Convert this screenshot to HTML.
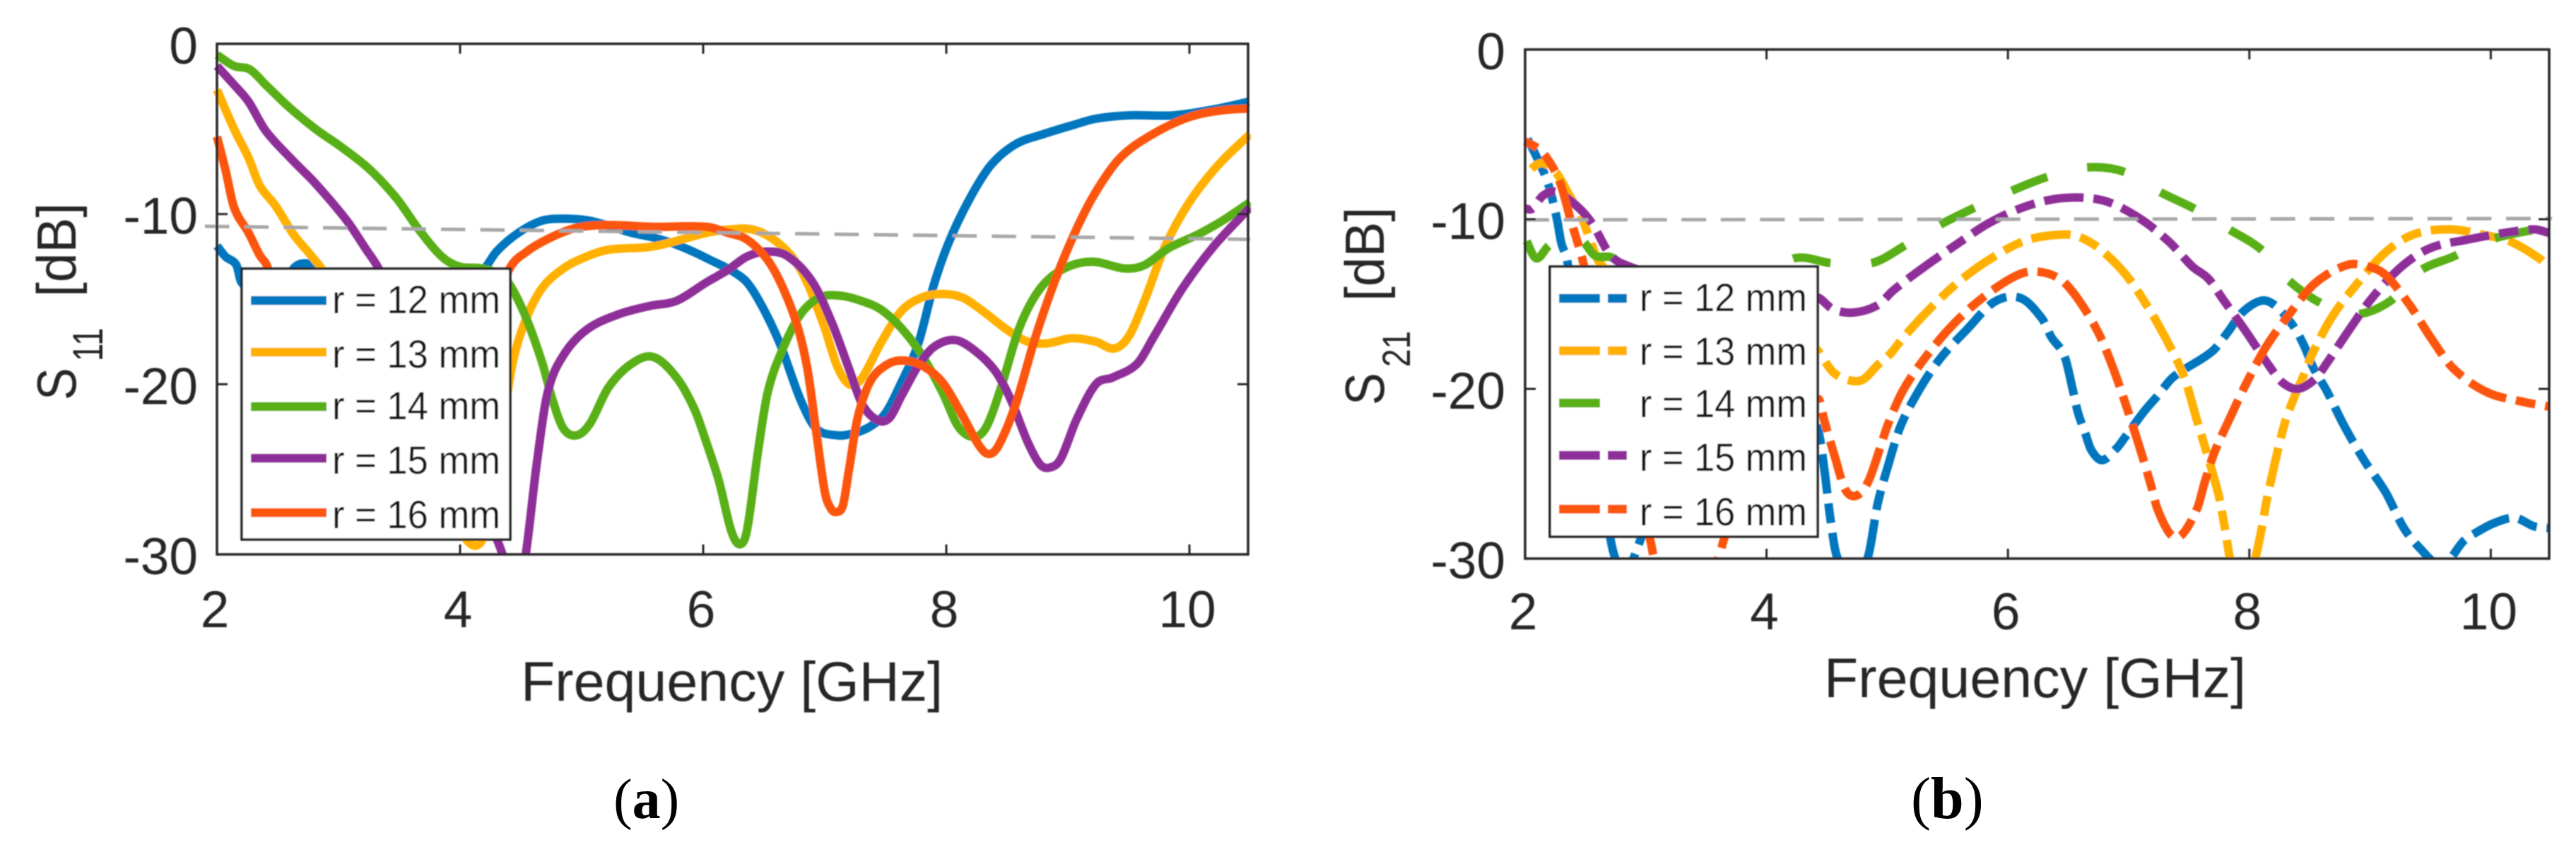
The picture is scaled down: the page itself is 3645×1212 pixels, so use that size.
<!DOCTYPE html>
<html lang="en">
<head>
<meta charset="utf-8">
<title>S11 and S21 versus frequency</title>
<style>
html,body{margin:0;padding:0;background:#fff;width:3645px;height:1212px;overflow:hidden}
svg{display:block;font-family:"Liberation Sans",Arial,sans-serif}
</style>
</head>
<body>
<svg id="figure" xmlns="http://www.w3.org/2000/svg" width="3645" height="1212" viewBox="0 0 3645 1212">
<defs>
<filter id="soft" x="-5%" y="-5%" width="110%" height="110%"><feGaussianBlur stdDeviation="0.7"/></filter>
<clipPath id="clipA"><rect x="298" y="62" width="1472" height="722"/></clipPath>
<clipPath id="clipB"><rect x="2149" y="70" width="1460" height="720"/></clipPath>
</defs>
<g id="panelA" filter="url(#soft)"></g>
<g id="panelB" filter="url(#soft)"></g>
<text x="868" y="1157" font-family="'Liberation Serif',serif" font-size="80" fill="#000">(<tspan font-weight="bold">a</tspan>)</text>
<text x="2704" y="1157" font-family="'Liberation Serif',serif" font-size="84" fill="#000">(<tspan font-weight="bold">b</tspan>)</text>
</svg>
<script>
const xTicks = [2, 4, 6, 8, 10];
const yTicks = [0, -10, -20, -30];
const legendLabels = ['r = 12 mm', 'r = 13 mm', 'r = 14 mm', 'r = 15 mm', 'r = 16 mm'];
const refLineA = [-10.72, -11.49];
const refLineB = [-10.04, -9.96];

const s11FreqR12 = [2,2.07,2.16,2.2,2.44,2.63,2.74,2.87,3.1,3.5,3.9,4.2,4.3,4.48,4.67,4.85,5.07,5.41,5.6,5.78,6.03,6.33,6.46,6.63,6.8,6.93,7.1,7.23,7.37,7.5,7.63,7.77,7.9,8.03,8.2,8.37,8.57,8.8,9.03,9.23,9.5,9.87,10.2,10.49];
const s11DbR12 = [-11.87,-12.5,-13,-14,-15.4,-13.2,-12.9,-13.3,-15,-16,-15,-13.2,-12.2,-11.1,-10.4,-10.27,-10.4,-11.1,-11.4,-11.8,-12.6,-13.8,-15.1,-17.6,-20.9,-22.6,-23,-22.9,-22.5,-21.7,-19.9,-17.6,-14.1,-11.5,-9,-7.1,-5.9,-5.3,-4.8,-4.4,-4.2,-4.2,-3.85,-3.4];
const s11FreqR13 = [2,2.14,2.26,2.35,2.48,2.63,2.77,2.87,3.2,3.6,3.95,4.17,4.3,4.42,4.53,4.67,4.85,5.04,5.22,5.59,6.03,6.23,6.4,6.56,6.73,6.86,7,7.1,7.2,7.3,7.46,7.63,7.8,7.97,8.13,8.3,8.5,8.67,8.83,9.03,9.23,9.38,9.5,9.63,9.8,10,10.24,10.5];
const s11DbR13 = [-2.7,-5,-6.7,-8.3,-9.5,-11.2,-12.4,-13.3,-17,-23,-28,-29.3,-25,-19.2,-16.4,-14.4,-13.2,-12.5,-12.1,-11.9,-11.1,-10.9,-10.9,-11.4,-12.5,-14.1,-16.7,-18.9,-20,-19.7,-17.6,-15.7,-14.9,-14.7,-14.9,-15.7,-16.8,-17.5,-17.6,-17.3,-17.5,-17.9,-17.2,-15.1,-11.9,-9.3,-7.1,-5.3];
const s11FreqR14 = [2,2.14,2.27,2.4,2.59,2.81,3.03,3.26,3.48,3.66,3.85,4,4.18,4.37,4.52,4.67,4.76,4.85,4.96,5.07,5.22,5.41,5.59,5.78,5.93,6.03,6.13,6.23,6.3,6.36,6.45,6.53,6.65,6.8,6.96,7.13,7.3,7.46,7.63,7.8,7.97,8.1,8.23,8.33,8.45,8.6,8.77,8.97,9.2,9.47,9.63,9.83,10.07,10.27,10.5];
const s11DbR14 = [-0.65,-1.3,-1.5,-2.4,-3.7,-5,-6.1,-7.4,-9.1,-10.9,-12.5,-13.1,-13.2,-13.8,-15.7,-18.6,-20.9,-22.6,-23,-22.3,-20.2,-18.8,-18.4,-19.6,-21.5,-23.5,-25.7,-28.6,-29.4,-28.6,-24,-20.5,-18,-15.9,-14.9,-14.8,-15.1,-15.6,-16.7,-18.3,-20.5,-22.5,-23.1,-22.5,-20.2,-16.7,-14.4,-13.2,-12.8,-13.2,-13,-12,-11.2,-10.4,-9.3];
const s11FreqR15 = [2,2.14,2.26,2.4,2.63,2.81,3.07,3.22,3.33,3.6,4,4.35,4.45,4.54,4.63,4.72,4.85,5.04,5.3,5.56,5.78,6.03,6.2,6.36,6.53,6.7,6.9,7.06,7.2,7.31,7.43,7.53,7.63,7.77,7.9,8.07,8.23,8.4,8.53,8.67,8.77,8.85,8.94,9.07,9.23,9.37,9.57,9.7,9.94,10.2,10.5];
const s11DbR15 = [-1.3,-2.4,-3.4,-5.1,-6.9,-8.2,-10.4,-12,-13.2,-17,-24,-30,-33,-30,-24.7,-20.5,-18.3,-16.8,-15.9,-15.4,-15.1,-14,-13.3,-12.5,-12.2,-12.5,-14,-16.4,-19.1,-21.2,-22.1,-22,-20.7,-18.9,-17.8,-17.4,-18,-19.2,-20.9,-23.4,-24.7,-24.9,-24.4,-22.1,-20,-19.6,-18.8,-17.3,-14.4,-11.9,-9.6];
const s11FreqR16 = [2,2.07,2.14,2.26,2.35,2.42,2.7,3.1,3.6,4,4.4,4.55,4.74,4.96,5.22,5.59,6.03,6.2,6.36,6.53,6.66,6.78,6.86,6.93,7,7.05,7.1,7.15,7.2,7.27,7.37,7.5,7.63,7.8,7.97,8.13,8.27,8.35,8.43,8.57,8.73,8.9,9.07,9.23,9.43,9.7,10,10.27,10.49];
const s11DbR16 = [-5.45,-7.4,-9.6,-11.1,-12.4,-13.2,-20,-27,-26,-20,-13.3,-12.2,-11.4,-10.8,-10.65,-10.75,-10.75,-11.1,-11.5,-12.7,-14.4,-16.7,-19.2,-22.8,-26.3,-27.3,-27.5,-27.1,-25,-22,-19.9,-18.9,-18.6,-18.9,-19.9,-21.8,-23.6,-24.1,-23.6,-21.2,-17.3,-13.8,-10.9,-8.7,-6.7,-5.3,-4.3,-3.9,-3.8];

const s21FreqR12 = [2,2.09,2.19,2.26,2.3,2.35,2.6,2.72,2.84,2.96,3.3,3.8,4.2,4.43,4.48,4.53,4.58,4.7,4.84,4.92,5.01,5.11,5.27,5.44,5.66,5.89,6.106,6.28,6.36,6.47,6.545,6.58,6.64,6.69,6.78,6.9,6.965,7.12,7.24,7.37,7.69,7.82,7.94,8.1,8.21,8.36,8.45,8.53,8.64,8.78,8.95,9.13,9.28,9.44,9.55,9.65,9.77,9.87,10.03,10.2,10.36,10.48];
const s21DbR12 = [-5,-6.25,-7.9,-9.86,-11.4,-12.5,-23,-29.3,-30.6,-28.8,-22,-17,-18,-22.5,-24.8,-27.7,-29.8,-31.2,-29.9,-26.8,-24.45,-22.2,-20,-18.2,-16.5,-14.86,-14.65,-15.83,-16.95,-18.1,-20.3,-21.4,-22.6,-23.6,-24.2,-23.5,-22.9,-21.4,-20.4,-19.3,-17.8,-16.67,-15.5,-14.8,-15.07,-16.25,-17.4,-18.75,-20.1,-22.1,-24.2,-26.1,-28.2,-29.6,-30.3,-30.1,-29,-28.5,-27.9,-27.6,-28.1,-28.2];
const s21FreqR13 = [2,2.13,2.25,2.36,2.48,2.56,2.62,3,3.6,4.1,4.42,4.55,4.69,4.8,4.92,5.03,5.13,5.35,5.59,5.85,6.15,6.46,6.61,6.77,6.98,7.17,7.32,7.46,7.56,7.74,7.8,7.84,7.92,8,8.05,8.1,8.14,8.21,8.29,8.36,8.45,8.53,8.69,8.87,9.12,9.36,9.67,9.97,10.16,10.4,10.48];
const s21DbR13 = [-7.36,-6.7,-7.2,-8.5,-10.1,-11.67,-12.6,-15,-15,-15.5,-17.7,-19,-19.5,-19.45,-18.6,-17.9,-17,-15.3,-13.7,-12.36,-11.25,-10.9,-11.1,-11.8,-13.3,-15.3,-17.2,-19.3,-21.7,-26.1,-28.3,-30,-31.5,-31.5,-30,-28.3,-26.7,-24.4,-22.1,-20.7,-19.2,-17.8,-15.7,-14,-12,-10.9,-10.6,-10.97,-11.3,-12.3,-12.8];
const s21FreqR14 = [2,2.09,2.19,2.3,2.47,2.58,2.73,3,3.6,4,4.23,4.55,4.88,5.16,5.45,5.73,6.03,6.33,6.65,6.96,7.26,7.55,7.82,8.1,8.31,8.58,8.87,9.16,9.4,9.69,9.98,10.3,10.48];
const s21DbR14 = [-11.1,-12.3,-11.6,-11,-11.25,-12.15,-12.3,-14,-14.5,-13.5,-12.3,-12.6,-12.57,-11.5,-10.28,-9.3,-8.33,-7.5,-6.95,-7.2,-8.4,-9.4,-10.55,-11.8,-13.5,-14.9,-15.6,-14.86,-13.1,-12.2,-11.25,-10.7,-10.6];
const s21FreqR15 = [2,2.06,2.15,2.26,2.44,2.56,2.69,2.79,3.2,3.8,4.42,4.55,4.72,4.92,5.05,5.3,5.58,5.85,6.15,6.46,6.79,7.08,7.33,7.53,7.66,7.78,7.96,8.16,8.27,8.4,8.54,8.64,8.81,9.01,9.26,9.5,9.81,10.12,10.36,10.48];
const s21DbR15 = [-9.38,-9.38,-8.6,-8.4,-9.3,-10.3,-11.95,-12.57,-13.5,-14,-14.6,-15.3,-15.5,-15.07,-14.2,-12.85,-11.46,-10.2,-9.24,-8.75,-8.9,-9.9,-11.3,-12.8,-13.5,-14.7,-16.5,-18.6,-19.6,-20,-19.45,-18.5,-16.7,-14.7,-12.8,-11.7,-11.2,-10.8,-10.6,-10.8];
const s21FreqR16 = [2,2.13,2.23,2.3,2.38,2.43,2.48,2.8,3.04,3.07,3.35,3.6,3.65,4,4.43,4.48,4.57,4.65,4.74,4.84,4.94,5,5.13,5.31,5.52,5.76,6.03,6.2,6.42,6.57,6.75,6.87,6.98,7.08,7.18,7.24,7.35,7.44,7.57,7.63,7.71,7.84,7.98,8.14,8.32,8.54,8.81,8.99,9.13,9.33,9.5,9.69,9.97,10.26,10.48];
const s21DbR16 = [-5.4,-5.97,-6.94,-8.05,-10.1,-11.25,-12.5,-22,-29,-30,-34,-30,-28.8,-22,-20.6,-21.9,-24.1,-25.9,-26.3,-25.5,-23.5,-22.2,-20.1,-18.2,-16.4,-14.8,-13.47,-13.08,-13.47,-14.6,-16.7,-18.75,-21,-23.2,-25.55,-27.1,-28.6,-28.6,-27,-25.5,-23.75,-21.7,-19.6,-17.5,-15.7,-13.8,-12.7,-12.8,-13.3,-15.07,-16.95,-18.8,-20.2,-20.75,-21.04];

const seriesColors = ['#0076BE', '#FFB000', '#58AF14', '#8E2F98', '#FC5408'];
const SVGNS = 'http://www.w3.org/2000/svg';
const INK = '#262626';

function make(tag, parent, attrs) {
  const el = document.createElementNS(SVGNS, tag);
  for (const k in attrs) el.setAttribute(k, attrs[k]);
  parent.appendChild(el);
  return el;
}
function label(parent, name, str, x, y, size, anchor, sx, rotate) {
  const el = make('text', parent, {
    transform: 'translate(' + x + ' ' + y + ')' + (rotate ? ' rotate(-90)' : '') + ' scale(' + sx + ' 1)',
    'font-size': size, 'text-anchor': anchor, fill: INK
  });
  
  
  el.textContent = str;
  return el;
}
function smoothPath(xs, ys) {
  const n = xs.length, m = [];
  for (let i = 0; i < n; i++) {
    const a = Math.max(0, i - 1), b = Math.min(n - 1, i + 1);
    m.push((ys[b] - ys[a]) / (xs[b] - xs[a]));
  }
  let d = 'M' + xs[0].toFixed(1) + ' ' + ys[0].toFixed(1);
  for (let i = 0; i < n - 1; i++) {
    const h = (xs[i + 1] - xs[i]) / 3;
    d += 'C' + (xs[i] + h).toFixed(1) + ' ' + (ys[i] + m[i] * h).toFixed(1) + ' ' +
         (xs[i + 1] - h).toFixed(1) + ' ' + (ys[i + 1] - m[i + 1] * h).toFixed(1) + ' ' +
         xs[i + 1].toFixed(1) + ' ' + ys[i + 1].toFixed(1);
  }
  return d;
}
function lengthAtX(path, x) {
  let lo = 0, hi = path.getTotalLength();
  for (let k = 0; k < 40; k++) {
    const mid = (lo + hi) / 2;
    if (path.getPointAtLength(mid).x < x) lo = mid; else hi = mid;
  }
  return lo;
}

function drawPanel(c) {
  const g = document.getElementById(c.id);
  const X = f => c.x0 + (f - 2) * c.pxPerGHz;
  const Y = v => c.y0 - v * c.pxPerDb;

  const plot = make('g', g, { 'clip-path': 'url(#' + c.clip + ')' });
  c.series.forEach((s, i) => {
    const p = make('path', plot, {
      d: smoothPath(s.f.map(X), s.v.map(Y)), fill: 'none',
      stroke: seriesColors[i], 'stroke-width': 12, 'stroke-linejoin': 'round'
    });
    if (c.dashes) {
      p.setAttribute('stroke-dasharray', c.dashes[i].join(' '));
      const period = c.dashes[i].reduce((a, b) => a + b, 0);
      const L = lengthAtX(p, X(c.dashAnchors[i]));
      p.setAttribute('stroke-dashoffset', (period - (L % period)).toFixed(1));
    }
    
    
  });

  const ref = make('line', g, {
    x1: c.refX[0], x2: c.refX[1], y1: Y(c.ref[0]), y2: Y(c.ref[1]),
    stroke: '#A8A8A8', 'stroke-width': 5, 'stroke-dasharray': c.refDash, 'stroke-dashoffset': c.refOffset
  });
  
  

  const frame = make('rect', g, {
    x: c.x0, y: c.y0, width: c.x1 - c.x0, height: c.y1 - c.y0,
    fill: 'none', stroke: INK, 'stroke-width': 3.5
  });
  
  

  xTicks.forEach((t) => {
    const tb = make('line', g, { x1: X(t), x2: X(t), y1: c.y1, y2: c.y1 - 14, stroke: INK, 'stroke-width': 3 });
    
    
    const tt = make('line', g, { x1: X(t), x2: X(t), y1: c.y0, y2: c.y0 + 14, stroke: INK, 'stroke-width': 3 });
    
    
    label(g, 'x-tick-label', String(t), X(t) - 3, c.xLabelY, 73, 'middle', 1, false);
  });
  yTicks.forEach((t) => {
    const tl = make('line', g, { x1: c.x0, x2: c.x0 + 15, y1: Y(t), y2: Y(t), stroke: INK, 'stroke-width': 3 });
    
    
    const tr = make('line', g, { x1: c.x1, x2: c.x1 - 15, y1: Y(t), y2: Y(t), stroke: INK, 'stroke-width': 3 });
    
    
    label(g, 'y-tick-label', String(t), c.yLabelX, Y(t) + 28, 73, 'end', 1, false);
  });

  label(g, 'x-axis-title', 'Frequency [GHz]', c.titleX, c.titleY, 79, 'start', 1, false);
  label(g, 'y-axis-symbol', 'S', c.symX, c.symY, 78, 'start', 0.88, true);
  label(g, 'y-axis-subscript', c.sub, c.subX, c.subY, c.subSize, 'start', c.subSx, true);
  label(g, 'y-axis-unit', '[dB]', c.symX, c.unitY, 78, 'start', 0.96, true);

  const lg = make('g', g, {});
  
  
  make('rect', lg, { x: c.lg.x, y: c.lg.y, width: c.lg.w, height: c.lg.h, fill: '#fff', stroke: '#222', 'stroke-width': 3.5 });
  legendLabels.forEach((t, i) => {
    const ln = make('line', lg, {
      x1: c.lg.lx0, x2: c.lg.lx1, y1: c.lg.ly[i], y2: c.lg.ly[i],
      stroke: seriesColors[i], 'stroke-width': 12.5
    });
    if (c.legendDashes) ln.setAttribute('stroke-dasharray', c.legendDashes[i]);
    
    
    const tx = make('text', lg, {
      x: c.lg.tx, y: c.lg.ty[i], 'font-size': 56, fill: '#161616',
      textLength: c.lg.tw, lengthAdjust: 'spacingAndGlyphs'
    });
    
    
    tx.textContent = t;
  });
}

drawPanel({
  id: 'panelA', prefix: 's11', clip: 'clipA', x0: 307, x1: 1766, y0: 62, y1: 784,
  pxPerGHz: 172, pxPerDb: 24.07, ref: refLineA, refX: [290, 1769], refDash: '34.5 21.17', refOffset: 0,
  series: [
    { f: s11FreqR12, v: s11DbR12 }, { f: s11FreqR13, v: s11DbR13 }, { f: s11FreqR14, v: s11DbR14 },
    { f: s11FreqR15, v: s11DbR15 }, { f: s11FreqR16, v: s11DbR16 }
  ],
  xLabelY: 887, yLabelX: 280,
  titleX: 737, titleY: 991,
  symX: 107, symY: 566, sub: '11', subX: 145, subY: 511, subSize: 60, subSx: 0.76, unitY: 420,
  lg: { x: 342, y: 380, w: 380, h: 383, lx0: 355, lx1: 462, tx: 470, tw: 238,
        ly: [425, 498, 575, 648, 725], ty: [443, 520, 593, 670, 747] }
});

drawPanel({
  id: 'panelB', prefix: 's21', clip: 'clipB', x0: 2158, x1: 3607, y0: 70, y1: 790,
  pxPerGHz: 170.8, pxPerDb: 24, ref: refLineB, refX: [2153, 3611], refDash: '35 20.56', refOffset: -4,
  series: [
    { f: s21FreqR12, v: s21DbR12 }, { f: s21FreqR13, v: s21DbR13 }, { f: s21FreqR14, v: s21DbR14 },
    { f: s21FreqR15, v: s21DbR15 }, { f: s21FreqR16, v: s21DbR16 }
  ],
  dashes: [[56, 14, 28, 14], [56, 14, 28, 14], [54, 58], [56, 14, 28, 14], [56, 14, 28, 14]],
  dashAnchors: [6.47, 9.5, 6.03, 6.3, 6.467],
  legendDashes: ['58 11 28', '58 11 28', '58 60', '58 11 28', '58 11 28'],
  xLabelY: 890, yLabelX: 2130,
  titleX: 2581, titleY: 986,
  symX: 1958, symY: 573, sub: '21', subX: 1995, subY: 519, subSize: 56, subSx: 0.82, unitY: 426,
  lg: { x: 2193, y: 377, w: 379, h: 382, lx0: 2206, lx1: 2302, tx: 2320, tw: 237,
        ly: [422, 496, 570, 644, 720], ty: [440, 516, 590, 666, 743] }
});
</script>
</body>
</html>
